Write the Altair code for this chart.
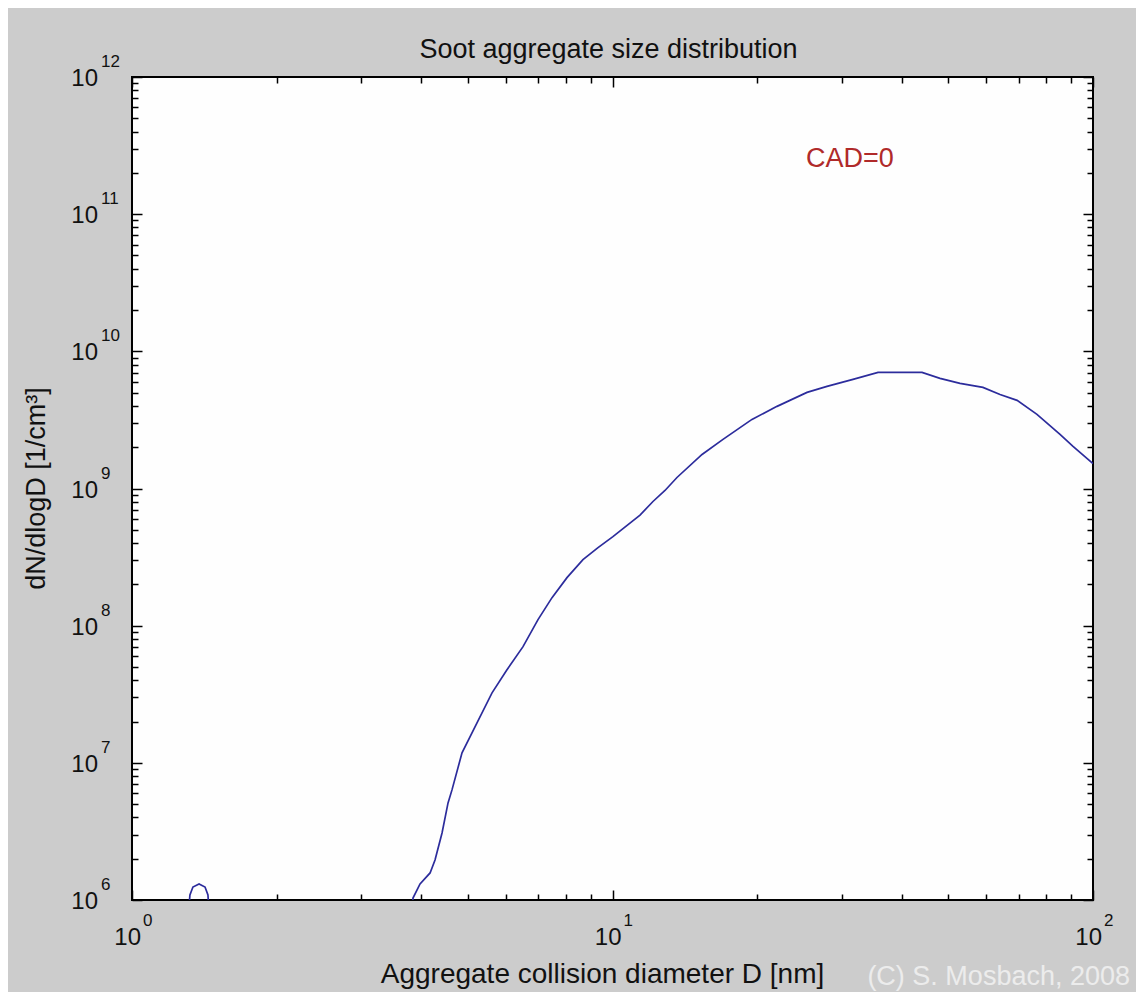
import altair as alt
import pandas as pd

# ---------------- data ----------------
# small hump near D ~ 1.4 nm (values below 1e6 are clipped by the axis)
hump_D = [1.296, 1.320, 1.339, 1.379, 1.419, 1.439, 1.460]
hump_N = [5e5, 1.09e6, 1.244e6, 1.31e6, 1.244e6, 1.09e6, 5e5]

# main distribution
main_D = [3.807, 3.844, 3.976, 4.172, 4.272, 4.418, 4.547, 4.634, 4.862, 5.224,
          5.614, 6.031, 6.513, 6.998, 7.484, 8.04, 8.68, 9.33, 10.02, 11.41,
          12.14, 12.86, 13.62, 15.36, 16.98, 19.51, 22.0, 25.4, 27.95, 31.66,
          35.7, 39.66, 44.07, 48.04, 52.88, 59.02, 64.05, 69.5, 76.45, 85.38,
          90.87, 100.0]
main_N = [5e5, 1.034e6, 1.31e6, 1.575e6, 1.959e6, 3.08e6, 5.1e6, 6.35e6, 1.183e7, 1.959e7,
          3.24e7, 4.77e7, 7.03e7, 1.106e8, 1.6e8, 2.24e8, 3.03e8, 3.71e8, 4.46e8, 6.4e8,
          8.04e8, 9.67e8, 1.203e9, 1.771e9, 2.28e9, 3.19e9, 3.97e9, 5.02e9, 5.55e9, 6.25e9,
          7.03e9, 7.03e9, 7.03e9, 6.35e9, 5.84e9, 5.46e9, 4.85e9, 4.39e9, 3.47e9, 2.48e9,
          2.03e9, 1.52e9]

x_exps = [0, 1, 2]
y_exps = [6, 7, 8, 9, 10, 11, 12]
x_min, x_max = 1, 100
y_min, y_max = 1e6, 1e12

title_text = "Soot aggregate size distribution"
x_title = "Aggregate collision diameter D [nm]"
y_title = "dN/dlogD [1/cm³]"
note_text = "CAD=0"
note_D, note_N = 31.2, 2.2e11
copyright_text = "(C) S. Mosbach, 2008"

# ---------------- tables ----------------
line_df = pd.DataFrame({
    "D": hump_D + main_D,
    "N": hump_N + main_N,
    "seg": ["a"] * len(hump_D) + ["b"] * len(main_D),
})
xlab_df = pd.DataFrame({"D": [10.0 ** e for e in x_exps], "N": [y_min] * len(x_exps),
                        "base": ["10"] * len(x_exps), "exp": [str(e) for e in x_exps]})
ylab_df = pd.DataFrame({"D": [x_min] * len(y_exps), "N": [10.0 ** e for e in y_exps],
                        "base": ["10"] * len(y_exps), "exp": [str(e) for e in y_exps]})

major_x = [10.0 ** e for e in x_exps]
minor_x = [k * 10.0 ** e for e in x_exps[:-1] for k in range(2, 10)]
major_y = [10.0 ** e for e in y_exps]
minor_y = [k * 10.0 ** e for e in y_exps[:-1] for k in range(2, 10)]

W, H = 961, 823
FONT = "Liberation Sans"

xs = alt.Scale(type="log", domain=[x_min, x_max], nice=False)
ys = alt.Scale(type="log", domain=[y_min, y_max], nice=False)


def ax(orient, off, values, size):
    return alt.Axis(orient=orient, offset=off, values=values, tickSize=size,
                    labels=False, title=None, grid=False, domain=False,
                    tickColor="black", tickWidth=1.5)


def X(field, axis):
    return alt.X(field, type="quantitative", scale=xs, axis=axis)


def Y(field, axis):
    return alt.Y(field, type="quantitative", scale=ys, axis=axis)


# line: carries bottom major ticks (pointing up) and left major ticks (pointing right)
line = alt.Chart(line_df).mark_line(color="#2c2c9c", strokeWidth=1.7, clip=True).encode(
    x=X("D", ax("top", -H, major_x, 10)),
    y=Y("N", ax("right", -W, major_y, 10)),
    detail="seg:N",
)

# x tick labels "10" + exponent; they carry the top/right tick sets
xl_base = alt.Chart(xlab_df).mark_text(font=FONT, fontSize=24, align="right",
                                       baseline="alphabetic", dx=9, dy=45,
                                       color="#111111").encode(
    x=X("D", ax("bottom", -H, major_x, 10)),
    y=Y("N", ax("left", -W, major_y, 10)),
    text="base:N",
)
xl_exp = alt.Chart(xlab_df).mark_text(font=FONT, fontSize=17, align="left",
                                      baseline="alphabetic", dx=11, dy=26,
                                      color="#111111").encode(
    x=X("D", ax("top", -H, minor_x, 6)),
    y=Y("N", ax("right", -W, minor_y, 6)),
    text="exp:N",
)
yl_base = alt.Chart(ylab_df).mark_text(font=FONT, fontSize=24, align="right",
                                       baseline="alphabetic", dx=-34, dy=9,
                                       color="#111111").encode(
    x=X("D", ax("bottom", -H, minor_x, 6)),
    y=Y("N", ax("left", -W, minor_y, 6)),
    text="base:N",
)
yl_exp = alt.Chart(ylab_df).mark_text(font=FONT, fontSize=17, align="left",
                                      baseline="alphabetic", dx=-31, dy=-10,
                                      color="#111111").encode(
    x=X("D", None),
    y=Y("N", None),
    text="exp:N",
)


def annot(D, N, text, **kw):
    df = pd.DataFrame({"D": [D], "N": [N], "t": [text]})
    return alt.Chart(df).mark_text(font=FONT, **kw).encode(
        x=X("D", None), y=Y("N", None), text="t:N")


title_l = annot(10.0, y_max, title_text, fontSize=27, align="center",
                baseline="alphabetic", dx=-4, dy=-19, color="#111111")
xtitle_l = annot(10.0, y_min, x_title, fontSize=28, align="center",
                 baseline="alphabetic", dx=-10, dy=83, color="#111111")
ytitle_l = annot(x_min, 1e9, y_title, fontSize=27, align="center",
                 baseline="middle", angle=270, dy=-95, color="#111111")
note_l = annot(note_D, note_N, note_text, fontSize=27, align="center",
               baseline="alphabetic", color="#b02a2a")
copy_l = annot(x_max, y_min, copyright_text, fontSize=27, align="right",
               baseline="alphabetic", dx=37, dy=85, color="#ececec")

chart = alt.layer(
    line, xl_base, xl_exp, yl_base, yl_exp,
    title_l, xtitle_l, ytitle_l, note_l, copy_l,
).resolve_axis(x="independent", y="independent").properties(
    width=W, height=H,
    padding={"left": 124, "top": 69, "right": 43, "bottom": 92},
    autosize="none",
    background="#cccccc",
).configure_view(fill="#fefefe", stroke="black", strokeWidth=2)

chart.save("out.html", embed_options={"renderer": "svg", "actions": False})
